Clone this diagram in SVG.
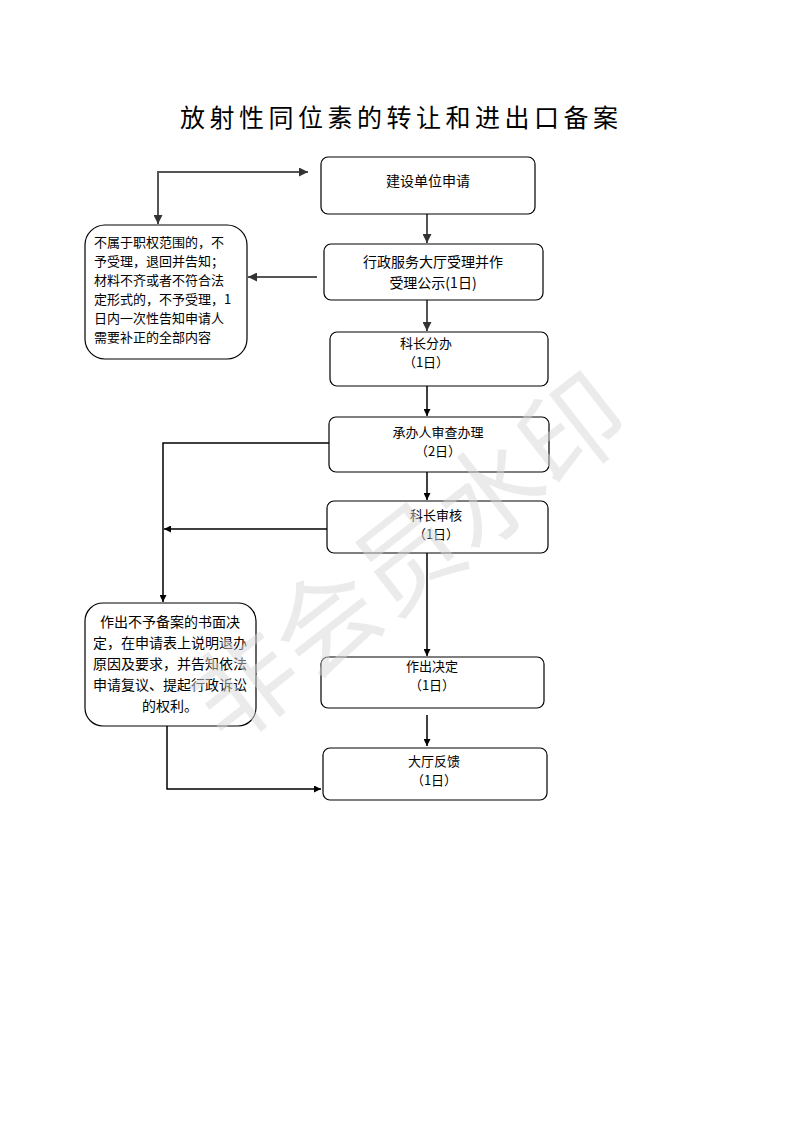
<svg xmlns="http://www.w3.org/2000/svg" width="793" height="1122" viewBox="0 0 793 1122">
<style>
.box{fill:#fff;stroke:#000;stroke-width:1.2}
.t{font-family:"Noto Sans CJK SC","Noto Sans CJK JP",sans-serif;font-size:14px;fill:#000}
.s{font-size:13px}
.c{text-anchor:middle}
.title{font-family:"Noto Sans CJK SC",sans-serif;font-size:25px;letter-spacing:4.5px;fill:#000}
.ln{fill:none;stroke:#000;stroke-width:1.5}
.lg{fill:none;stroke:#555;stroke-width:2}
.wm{font-family:"Noto Sans CJK SC",sans-serif;font-size:104px;fill:#d8d8d8;fill-opacity:0.5}
</style>
<defs>
<marker id="a" viewBox="0 0 10 10" refX="10" refY="5" markerWidth="7" markerHeight="7" markerUnits="userSpaceOnUse" orient="auto"><path d="M0,0L10,5L0,10z" fill="#000"/></marker>
<marker id="ag" viewBox="0 0 10 10" refX="10" refY="5" markerWidth="9" markerHeight="9" markerUnits="userSpaceOnUse" orient="auto"><path d="M0,0L10,5L0,10z" fill="#333"/></marker>
</defs>
<rect width="793" height="1122" fill="#fff"/>
<text class="title" x="180" y="127">放射性同位素的转让和进出口备案</text>

<g id="connectors">
<path class="lg" d="M158,224 V172 H308" marker-end="url(#ag)"/>
<path class="lg" d="M158,180 V224" marker-end="url(#ag)"/>
<path class="lg" d="M427,214 V243" marker-end="url(#ag)"/>
<path class="lg" d="M317,277 H248" marker-end="url(#ag)"/>
<path class="lg" d="M427,300 V331" marker-end="url(#ag)"/>
<path class="ln" d="M427,386 V416" marker-end="url(#a)"/>
<path class="ln" d="M427,472 V500" marker-end="url(#a)"/>
<path class="ln" d="M329,443 H163 V602" marker-end="url(#a)"/>
<path class="ln" d="M327,529 H164" marker-end="url(#a)"/>
<path class="ln" d="M427,553 V656" marker-end="url(#a)"/>
<path class="ln" d="M427,715 V746" marker-end="url(#a)"/>
<path class="ln" d="M167,726 V789 H321" marker-end="url(#a)"/>
</g>

<g id="n1"><rect class="box" x="321" y="157" width="214" height="57" rx="7"/><text class="t c" x="428" y="186">建设单位申请</text></g>
<g id="n2"><rect class="box" x="324" y="244" width="219" height="56" rx="7"/><text class="t c" x="433" y="267">行政服务大厅受理并作<tspan x="433" dy="21">受理公示(1日)</tspan></text></g>
<g id="n3"><rect class="box" x="330" y="332" width="218" height="54" rx="7"/><text class="t s c" x="426" y="348">科长分办<tspan x="426" dy="19">（1日）</tspan></text></g>
<g id="n4"><rect class="box" x="329" y="417" width="220" height="55" rx="7"/><text class="t s c" x="438" y="437">承办人审查办理<tspan x="438" dy="19">（2日）</tspan></text></g>
<g id="n5"><rect class="box" x="327" y="501" width="221" height="52" rx="7"/><text class="t s c" x="436" y="520">科长审核<tspan x="436" dy="19">（1日）</tspan></text></g>
<g id="n6"><rect class="box" x="321" y="657" width="223" height="51" rx="7"/><text class="t s c" x="432" y="671">作出决定<tspan x="432" dy="19">（1日）</tspan></text></g>
<g id="n7"><rect class="box" x="323" y="748" width="224" height="52" rx="7"/><text class="t s c" x="434" y="766">大厅反馈<tspan x="434" dy="19">（1日）</tspan></text></g>
<g id="l1"><rect class="box" x="85" y="225" width="162" height="134" rx="20"/>
<text class="t s" x="94" y="247">不属于职权范围的，不<tspan x="94" dy="19">予受理，退回并告知；</tspan><tspan x="94" dy="19">材料不齐或者不符合法</tspan><tspan x="94" dy="19">定形式的，不予受理，1</tspan><tspan x="94" dy="19">日内一次性告知申请人</tspan><tspan x="94" dy="19">需要补正的全部内容</tspan></text></g>
<g id="l2"><rect class="box" x="85" y="603" width="171" height="123" rx="18"/>
<text class="t c" x="170" y="627">作出不予备案的书面决<tspan x="170" dy="21">定，在申请表上说明退办</tspan><tspan x="170" dy="21">原因及要求，并告知依法</tspan><tspan x="170" dy="21">申请复议、提起行政诉讼</tspan><tspan x="170" dy="21">的权利。</tspan></text></g>

<text class="wm" x="410" y="595" text-anchor="middle" transform="rotate(-38 410 560)">非会员水印</text>
</svg>
